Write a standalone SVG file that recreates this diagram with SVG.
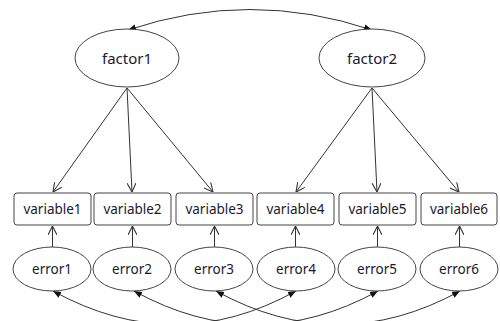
<svg xmlns="http://www.w3.org/2000/svg" width="500" height="321" viewBox="0 0 500 321">
<style>
.n{fill:#fff;stroke:#444;stroke-width:1}
.t{font-family:"Noto Sans","Open Sans",sans-serif;fill:#1a1a2e;text-anchor:middle;dominant-baseline:central}
.f{font-size:15px}
.s{font-size:13.5px}
.c{fill:none;stroke:#333;stroke-width:1}
</style>
<defs>
<marker id="open" viewBox="0 0 10 10" refX="10" refY="5" markerWidth="9" markerHeight="9" markerUnits="userSpaceOnUse" orient="auto">
<path d="M0,0 L10,5 L0,10" fill="none" stroke="#333" stroke-width="1.2"/>
</marker>
<marker id="fill" viewBox="0 0 10 10" refX="10" refY="5" markerWidth="8" markerHeight="8" markerUnits="userSpaceOnUse" orient="auto-start-reverse">
<path d="M0,1 L10,5 L0,9 Z" fill="#111"/>
</marker>
</defs>
<g id="connectors">
<path class="c" d="M128,30 Q250,-11 372,30" marker-start="url(#fill)" marker-end="url(#fill)"/>
<line class="c" x1="127" y1="88" x2="53" y2="192" marker-end="url(#open)"/>
<line class="c" x1="127" y1="88" x2="132" y2="192" marker-end="url(#open)"/>
<line class="c" x1="127" y1="88" x2="213" y2="192" marker-end="url(#open)"/>
<line class="c" x1="372" y1="88" x2="296" y2="192" marker-end="url(#open)"/>
<line class="c" x1="372" y1="88" x2="377" y2="192" marker-end="url(#open)"/>
<line class="c" x1="372" y1="88" x2="459" y2="192" marker-end="url(#open)"/>
<line class="c" x1="52.5" y1="247" x2="52.5" y2="226" marker-end="url(#open)"/>
<line class="c" x1="132.5" y1="247" x2="132.5" y2="226" marker-end="url(#open)"/>
<line class="c" x1="214.5" y1="247" x2="214.5" y2="226" marker-end="url(#open)"/>
<line class="c" x1="295.5" y1="247" x2="295.5" y2="226" marker-end="url(#open)"/>
<line class="c" x1="377.5" y1="247" x2="377.5" y2="226" marker-end="url(#open)"/>
<line class="c" x1="459.5" y1="247" x2="459.5" y2="226" marker-end="url(#open)"/>
<path class="c" d="M53,291 Q175,358 296,291" marker-start="url(#fill)" marker-end="url(#fill)"/>
<path class="c" d="M134,291 Q256,358 378,291" marker-start="url(#fill)" marker-end="url(#fill)"/>
<path class="c" d="M216,291 Q338,358 460,291" marker-start="url(#fill)" marker-end="url(#fill)"/>
</g>
<g id="factor1"><ellipse class="n" cx="127" cy="58" rx="52" ry="29"/><text class="t f" x="127" y="58">factor1</text></g>
<g id="factor2"><ellipse class="n" cx="372" cy="58" rx="53" ry="29"/><text class="t f" x="372" y="58">factor2</text></g>
<g id="variable1"><rect class="n" x="14" y="193" width="77" height="32" rx="3"/><text class="t s" x="52.5" y="209">variable1</text></g>
<g id="variable2"><rect class="n" x="94" y="193" width="77" height="32" rx="3"/><text class="t s" x="132.5" y="209">variable2</text></g>
<g id="variable3"><rect class="n" x="176" y="193" width="77" height="32" rx="3"/><text class="t s" x="214.5" y="209">variable3</text></g>
<g id="variable4"><rect class="n" x="257" y="193" width="77" height="32" rx="3"/><text class="t s" x="295.5" y="209">variable4</text></g>
<g id="variable5"><rect class="n" x="339" y="193" width="77" height="32" rx="3"/><text class="t s" x="377.5" y="209">variable5</text></g>
<g id="variable6"><rect class="n" x="421" y="193" width="76" height="32" rx="3"/><text class="t s" x="459" y="209">variable6</text></g>
<g id="error1"><ellipse class="n" cx="52" cy="269" rx="39" ry="22"/><text class="t s" x="52" y="269">error1</text></g>
<g id="error2"><ellipse class="n" cx="132" cy="269" rx="39" ry="22"/><text class="t s" x="132" y="269">error2</text></g>
<g id="error3"><ellipse class="n" cx="214" cy="269" rx="39" ry="22"/><text class="t s" x="214" y="269">error3</text></g>
<g id="error4"><ellipse class="n" cx="296" cy="269" rx="39" ry="22"/><text class="t s" x="296" y="269">error4</text></g>
<g id="error5"><ellipse class="n" cx="377" cy="269" rx="39" ry="22"/><text class="t s" x="377" y="269">error5</text></g>
<g id="error6"><ellipse class="n" cx="459" cy="269" rx="39" ry="22"/><text class="t s" x="459" y="269">error6</text></g>
</svg>
